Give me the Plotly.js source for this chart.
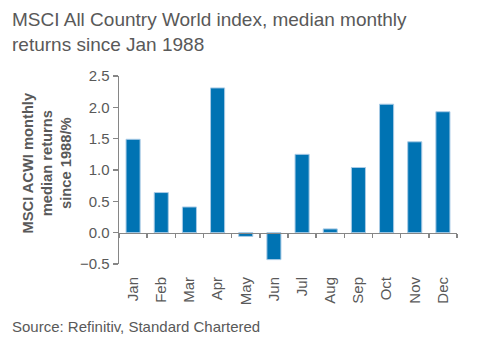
<!DOCTYPE html>
<html>
<head>
<meta charset="utf-8">
<script src="https://cdn.plot.ly/plotly-3.0.1.min.js"></script>
<style>html,body{margin:0;padding:0;background:#fff;}#chart{width:477px;height:340px;}</style>
</head>
<body>
<div id="chart"></div>
<script>
const months = ["Jan","Feb","Mar","Apr","May","Jun","Jul","Aug","Sep","Oct","Nov","Dec"];
const medianReturns = [1.49, 0.64, 0.41, 2.31, -0.06, -0.43, 1.25, 0.06, 1.04, 2.05, 1.45, 1.93];
const yTicks = [-0.5, 0.0, 0.5, 1.0, 1.5, 2.0, 2.5];
const titleText = "MSCI All Country World index, median monthly<br>returns since Jan 1988";
const yTitleText = "MSCI ACWI monthly<br>median returns<br>since 1988/%";
const sourceText = "Source: Refinitiv, Standard Chartered";

const yRange = [yTicks[0], yTicks[yTicks.length-1]];
const zeroPos = (0 - yRange[0]) / (yRange[1] - yRange[0]);
const textColor = "#595959";
const axisColor = "#868686";

const traces = [
  {
    type: "bar", x: months, y: medianReturns, xaxis: "x", yaxis: "y",
    marker: {color: "#0073B3", line: {color: "#A9CBE6", width: 1}},
    hoverinfo: "x+y"
  },
  {
    type: "bar", x: months, y: medianReturns, xaxis: "x2", yaxis: "y",
    marker: {color: "rgba(0,0,0,0)"}, hoverinfo: "skip", showlegend: false
  }
];

const plotTop = 76, plotBottom = 264, plotLeft = 119, plotW = 338, plotH = 188;
const px = (x) => (x - plotLeft) / plotW;
const py = (y) => (plotBottom - y) / plotH;

const layout = {
  width: 477, height: 340,
  margin: {l: 119, r: 20, t: 76, b: 76},
  paper_bgcolor: "#fff", plot_bgcolor: "#fff",
  showlegend: false,
  bargap: 0.5,
  font: {family: "Arial, 'Liberation Sans', sans-serif", color: textColor},
  xaxis: {
    type: "category", categoryorder: "array", categoryarray: months,
    range: [-0.5, 11.5],
    showline: false, showgrid: false, zeroline: false,
    ticks: "outside", ticklen: 6, tickcolor: "rgba(0,0,0,0)",
    tickangle: -90, tickfont: {size: 15, color: textColor}
  },
  xaxis2: {
    type: "category", categoryorder: "array", categoryarray: months,
    range: [-0.5, 11.5], overlaying: "x", anchor: "free", position: zeroPos,
    showline: true, linecolor: axisColor, linewidth: 1.5,
    showgrid: false, zeroline: false, showticklabels: false,
    ticks: "outside", tickson: "boundaries", ticklen: 4, tickcolor: axisColor, tickwidth: 1.5
  },
  yaxis: {
    range: yRange, tickvals: yTicks, tickformat: ".1f",
    showline: true, linecolor: axisColor, linewidth: 1.5,
    showgrid: false, zeroline: false,
    ticks: "outside", ticklen: 5, tickcolor: axisColor, tickwidth: 1.5,
    tickfont: {size: 15, color: textColor}
  },
  annotations: [
    {
      text: titleText, xref: "paper", yref: "paper",
      x: px(10), y: py(7), xanchor: "left", yanchor: "top", align: "left",
      showarrow: false, font: {size: 19, color: textColor}
    },
    {
      text: "<b>" + yTitleText + "</b>", textangle: -90,
      xref: "paper", yref: "paper", x: px(46), y: py(163.5),
      xanchor: "center", yanchor: "middle", showarrow: false,
      font: {size: 14.7, color: textColor}
    },
    {
      text: sourceText, xref: "paper", yref: "paper",
      x: px(10), y: py(326), xanchor: "left", yanchor: "middle",
      showarrow: false, font: {size: 15, color: textColor}
    }
  ]
};

Plotly.newPlot("chart", traces, layout, {displayModeBar: false, staticPlot: true});
</script>
</body>
</html>
